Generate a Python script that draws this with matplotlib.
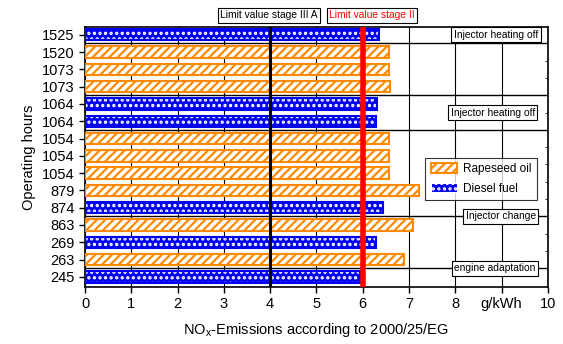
import numpy as np
import matplotlib.pyplot as plt

plt.rcParams['font.family'] = ['Liberation Sans', 'DejaVu Sans']
plt.rcParams['hatch.linewidth'] = 1.6

# operating hours, bottom to top
hours = ['245', '263', '269', '863', '874', '879', '1054', '1054', '1054',
         '1064', '1064', '1073', '1073', '1520', '1525']
nox = [5.94, 6.89, 6.29, 7.09, 6.44, 7.21, 6.57, 6.57, 6.57,
       6.28, 6.31, 6.59, 6.57, 6.57, 6.35]
fuel = ['D', 'R', 'D', 'R', 'D', 'R', 'R', 'R', 'R',
        'D', 'D', 'R', 'R', 'R', 'D']

separators = [0.5, 3.5, 8.5, 10.5, 13.5]
notes = [('Injector heating off', 8.88, 14.0),
         ('Injector heating off', 8.81, 9.5),
         ('Injector change', 8.98, 3.5),
         ('engine adaptation', 8.86, 0.5)]

orange = '#FF8A00'
blue = '#0000F0'
note_font = ['Liberation Sans Narrow', 'Liberation Sans']

fig = plt.figure(figsize=(5.63, 3.44), dpi=100)
ax = fig.add_axes([0.151, 0.166, 0.822, 0.756])

y = np.arange(len(hours))
h = 0.66
for yi, v, f in zip(y, nox, fuel):
    if f == 'R':
        ax.barh(yi, v, height=h, color='white', edgecolor=orange,
                hatch='////', linewidth=1.5, zorder=3)
    else:
        ax.barh(yi, v, height=h, color=blue, edgecolor='white',
                hatch='...', linewidth=0, zorder=3)
        ax.barh(yi, v, height=h, color='none', edgecolor=blue,
                linewidth=1.5, zorder=4)

# legend handles
r = ax.bar([0], [0], color='white', edgecolor=orange, hatch='////',
           linewidth=1.5, label='Rapeseed oil')
d = ax.bar([0], [0], color=blue, edgecolor='white', hatch='...',
           linewidth=0.8, label='Diesel fuel')
leg = ax.legend(handles=[r, d], loc='upper right',
                bbox_to_anchor=(0.99, 0.52), fontsize=8.5, frameon=True,
                fancybox=False, edgecolor='black', handlelength=2.2,
                handleheight=0.9, borderpad=0.5, labelspacing=0.6,
                handletextpad=0.5)
leg.get_frame().set_linewidth(0.8)
leg.set_zorder(6)

for s in separators:
    ax.axhline(s, color='black', linewidth=1.0, zorder=2)

ax.axvline(4, color='black', linewidth=2.2, zorder=5)
ax.axvline(6, color='#FF0000', linewidth=4, zorder=5)

for txt, xx, yy in notes:
    ax.text(xx, yy, txt, ha='center', va='center', fontsize=7.4,
            family=note_font, zorder=6,
            bbox=dict(facecolor='white', edgecolor='black', linewidth=0.8,
                      pad=1.8))

ax.text(3.98, 1.045, 'Limit value stage III A', transform=ax.get_xaxis_transform(),
        ha='center', va='center', fontsize=7.4, family=note_font,
        bbox=dict(facecolor='white', edgecolor='black', linewidth=0.8, pad=1.8))
ax.text(6.2, 1.045, 'Limit value stage II', transform=ax.get_xaxis_transform(),
        ha='center', va='center', fontsize=7.4, color='red', family=note_font,
        bbox=dict(facecolor='white', edgecolor='black', linewidth=0.8, pad=1.8))

ax.set_xlim(0, 10)
ax.set_ylim(-0.58, 14.46)
ax.set_xticks(range(11))
ax.set_xticklabels(['0', '1', '2', '3', '4', '5', '6', '7', '8', 'g/kWh', '10'],
                   fontsize=10.5)
ax.set_yticks(y)
ax.set_yticklabels(hours, fontsize=10.5)
ax.set_yticks(np.arange(-0.5, 14.5, 0.5), minor=True)
ax.tick_params(axis='y', which='minor', left=False, right=True,
               direction='in', length=2)
ax.tick_params(axis='both', which='major', direction='out', length=4, width=1)
ax.grid(axis='x', color='black', linewidth=0.8, zorder=1)
ax.set_axisbelow(True)
for sp in ax.spines.values():
    sp.set_linewidth(1.2)

ax.set_xlabel('NO$_\\mathregular{x}$-Emissions according to 2000/25/EG',
              fontsize=10.5, labelpad=7)
ax.set_ylabel('Operating hours', fontsize=10.5)

fig.savefig('out.png', dpi=100)
